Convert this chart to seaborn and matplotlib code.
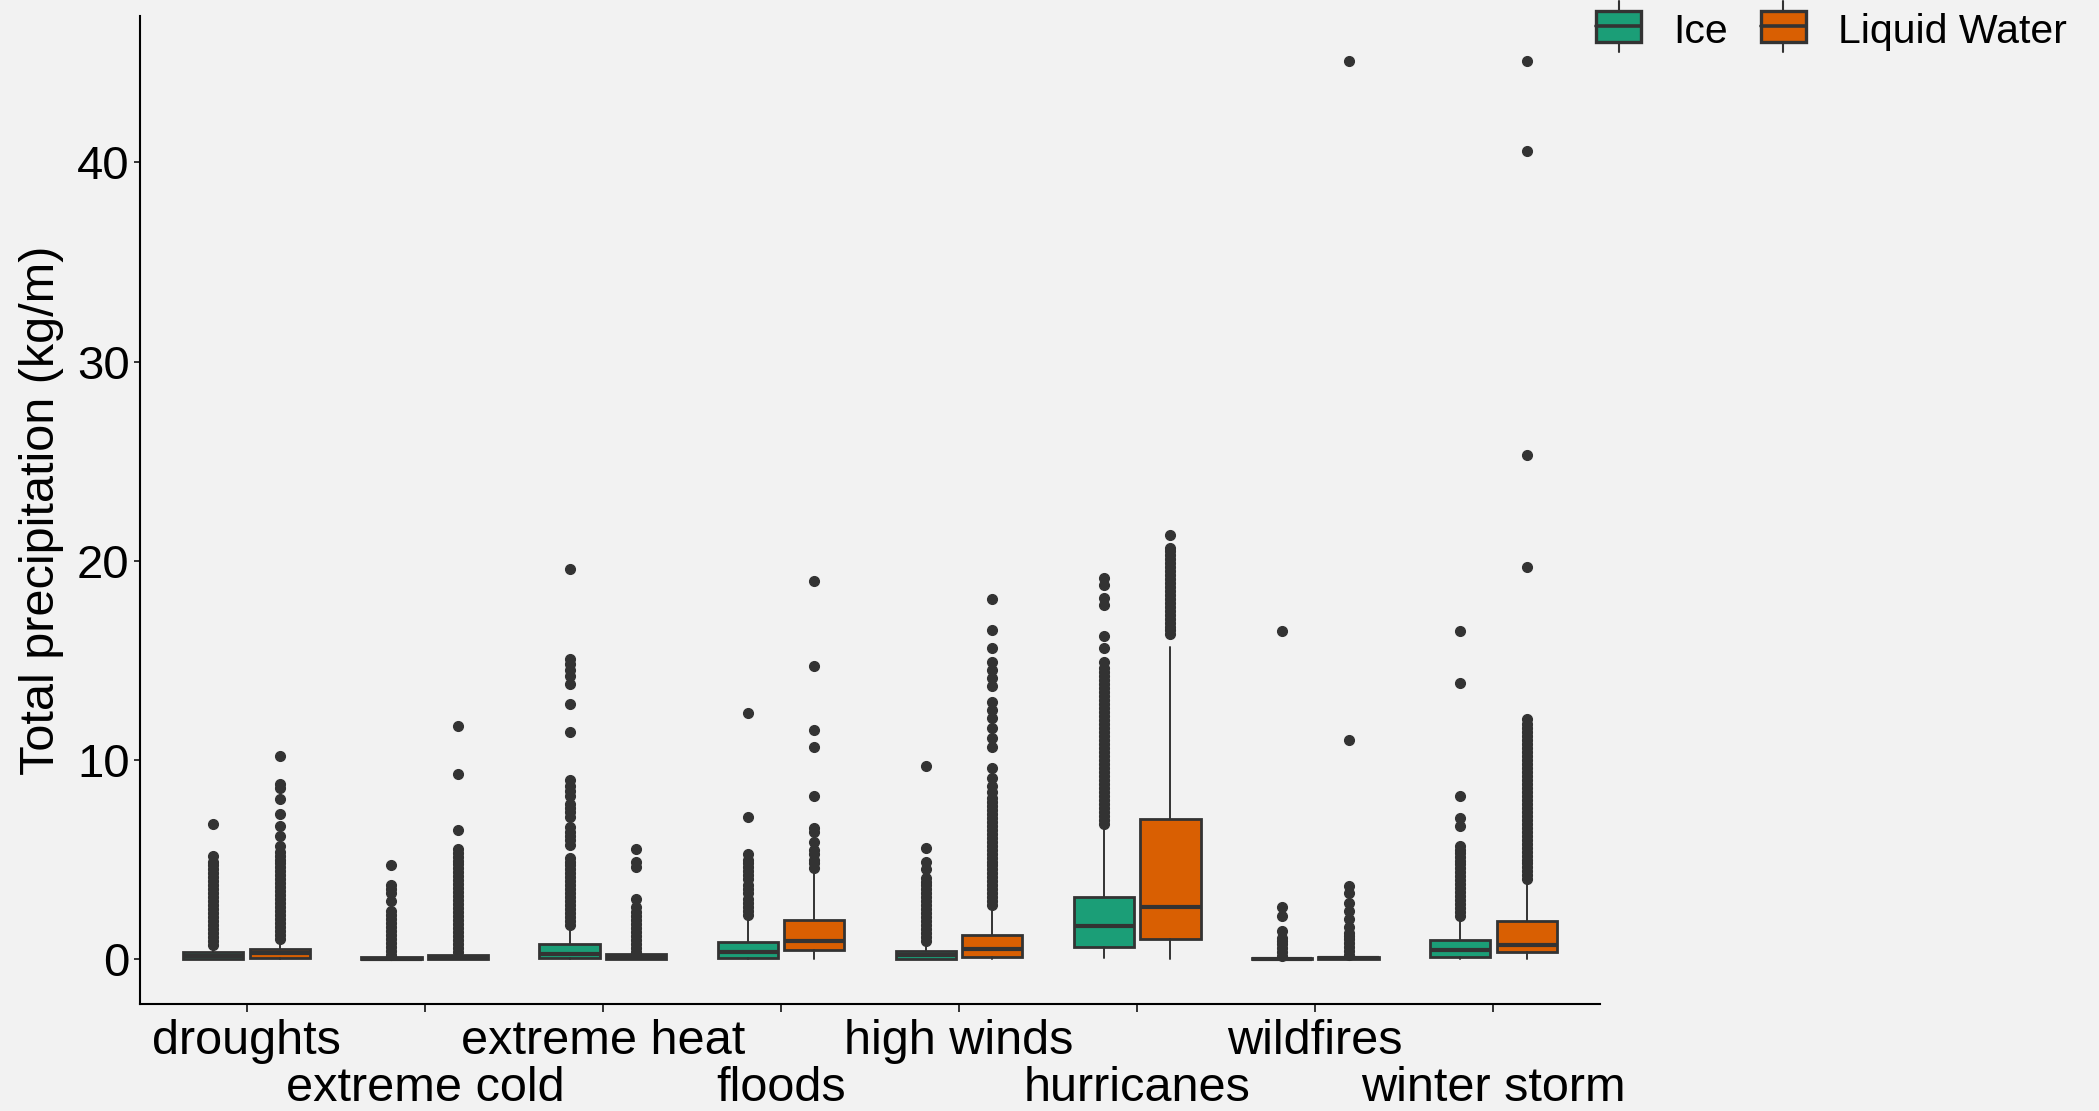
import matplotlib
matplotlib.use("Agg")
import matplotlib.pyplot as plt
from matplotlib.legend_handler import HandlerBase
from matplotlib.patches import Patch, Rectangle
from matplotlib.lines import Line2D
from matplotlib.transforms import ScaledTranslation
import seaborn as sns

# categories and hue groups
categories = ["droughts", "extreme cold", "extreme heat", "floods",
              "high winds", "hurricanes", "wildfires", "winter storm"]
phases = ["Ice", "Liquid Water"]

# box statistics (kg/m)
ice_whislo = [0.0, 0.0, 0.0, 0.0, 0.0, 0.05, 0.0, 0.0]
ice_q1 = [0.02, 0.0, 0.05, 0.05, 0.02, 0.6, 0.0, 0.09]
ice_med = [0.15, 0.02, 0.25, 0.35, 0.2, 1.67, 0.02, 0.47]
ice_q3 = [0.35, 0.08, 0.75, 0.85, 0.4, 3.1, 0.05, 0.94]
ice_whishi = [0.65, 0.15, 1.6, 1.9, 0.8, 6.65, 0.1, 1.9]

water_whislo = [0.0, 0.0, 0.0, 0.0, 0.0, 0.0, 0.0, 0.02]
water_q1 = [0.05, 0.0, 0.02, 0.45, 0.1, 1.02, 0.0, 0.38]
water_med = [0.3, 0.05, 0.1, 0.9, 0.5, 2.64, 0.03, 0.69]
water_q3 = [0.5, 0.2, 0.25, 1.97, 1.2, 7.02, 0.12, 1.92]
water_whishi = [0.9, 0.3, 0.3, 4.45, 2.6, 15.65, 0.18, 3.9]

# outliers
ice_fliers = [
    [0.7, 0.9, 1.1, 1.3, 1.5, 1.7, 1.9, 2.1, 2.3, 2.5, 2.7, 2.9, 3.1, 3.3,
     3.5, 3.7, 3.9, 4.1, 4.3, 4.5, 4.7, 4.9, 5.2, 6.8],
    [0.2, 0.4, 0.6, 0.8, 1.0, 1.2, 1.4, 1.6, 1.8, 2.0, 2.2, 2.4, 2.9, 3.3,
     3.5, 3.7, 4.7],
    [1.7, 1.9, 2.1, 2.3, 2.5, 2.7, 2.9, 3.1, 3.3, 3.5, 3.7, 3.9, 4.1, 4.3,
     4.5, 4.7, 4.9, 5.1, 5.75, 6.0, 6.2, 6.4, 6.65, 7.15, 7.4, 7.6, 7.8,
     8.2, 8.45, 8.7, 9.0, 11.4, 12.8, 13.8, 14.2, 14.5, 14.8, 15.05, 19.6],
    [2.2, 2.4, 2.6, 2.8, 3.0, 3.3, 3.5, 3.7, 4.0, 4.2, 4.4, 4.6, 4.8, 5.0,
     5.3, 7.15, 12.35],
    [0.9, 1.1, 1.3, 1.5, 1.7, 1.9, 2.1, 2.3, 2.5, 2.7, 2.9, 3.1, 3.3, 3.5,
     3.7, 3.85, 4.05, 4.5, 4.9, 5.6, 9.7],
    [6.8, 7.0, 7.2, 7.4, 7.6, 7.8, 8.0, 8.2, 8.4, 8.6, 8.8, 9.0, 9.2, 9.4,
     9.6, 9.8, 10.0, 10.2, 10.4, 10.6, 10.8, 11.0, 11.2, 11.4, 11.6, 11.8,
     12.0, 12.2, 12.4, 12.6, 12.8, 13.0, 13.2, 13.4, 13.6, 13.8, 14.0, 14.2,
     14.4, 14.6, 14.9, 15.6, 16.2, 17.8, 18.15, 18.8, 19.15],
    [0.15, 0.35, 0.55, 0.75, 0.9, 1.05, 1.4, 2.15, 2.6, 16.45],
    [2.15, 2.35, 2.55, 2.75, 2.95, 3.15, 3.35, 3.55, 3.75, 3.95, 4.15, 4.35,
     4.55, 4.75, 4.95, 5.15, 5.35, 5.5, 5.7, 6.7, 7.1, 8.2, 13.87, 16.45],
]
water_fliers = [
    [1.0, 1.2, 1.4, 1.6, 1.8, 2.0, 2.2, 2.4, 2.6, 2.8, 3.0, 3.2, 3.4, 3.6,
     3.8, 4.0, 4.2, 4.4, 4.6, 4.8, 5.0, 5.2, 5.4, 5.7, 6.2, 6.7, 7.3, 8.05,
     8.6, 8.8, 10.2],
    [0.35, 0.55, 0.75, 0.95, 1.15, 1.35, 1.55, 1.75, 1.95, 2.15, 2.35, 2.55,
     2.75, 2.95, 3.15, 3.35, 3.55, 3.75, 3.95, 4.15, 4.35, 4.55, 4.75, 4.95,
     5.15, 5.35, 5.55, 6.5, 9.3, 11.7],
    [0.35, 0.55, 0.75, 0.95, 1.15, 1.35, 1.55, 1.75, 1.95, 2.15, 2.35, 2.6,
     3.0, 4.6, 4.9, 5.55],
    [4.55, 4.8, 5.0, 5.3, 5.5, 5.9, 6.4, 6.6, 8.2, 10.65, 11.5, 14.7, 19.0],
    [2.7, 2.9, 3.1, 3.3, 3.5, 3.7, 3.9, 4.1, 4.3, 4.5, 4.7, 4.9, 5.1, 5.3,
     5.5, 5.7, 5.9, 6.1, 6.3, 6.5, 6.7, 6.9, 7.1, 7.3, 7.5, 7.7, 7.9, 8.1,
     8.4, 8.7, 9.1, 9.6, 10.65, 11.1, 11.6, 12.1, 12.5, 12.9, 13.7, 14.1,
     14.5, 14.9, 15.6, 16.5, 18.1],
    [16.3, 16.5, 16.7, 16.9, 17.1, 17.3, 17.5, 17.7, 17.9, 18.1, 18.3, 18.5,
     18.7, 18.9, 19.1, 19.3, 19.5, 19.7, 19.9, 20.1, 20.3, 20.5, 20.65, 21.3],
    [0.2, 0.4, 0.6, 0.8, 1.0, 1.15, 1.3, 1.6, 2.0, 2.4, 2.8, 3.3, 3.65,
     10.98, 45.1],
    [4.0, 4.2, 4.4, 4.6, 4.8, 5.0, 5.2, 5.4, 5.6, 5.8, 6.0, 6.2, 6.4, 6.6,
     6.8, 7.0, 7.2, 7.4, 7.6, 7.8, 8.0, 8.2, 8.4, 8.6, 8.8, 9.0, 9.2, 9.4,
     9.6, 9.8, 10.0, 10.2, 10.4, 10.6, 10.8, 11.0, 11.2, 11.4, 11.6, 11.8,
     12.06, 19.7, 25.3, 40.6, 45.1],
]

y_ticks = [0, 10, 20, 30, 40]

BG = "#F2F2F2"
INK = "#333333"

sns.set_theme(style="ticks")
plt.rcParams["font.family"] = ["Liberation Sans", "DejaVu Sans"]
plt.rcParams["text.color"] = "black"
plt.rcParams["xtick.labelcolor"] = "black"
plt.rcParams["ytick.labelcolor"] = "black"
plt.rcParams["axes.labelcolor"] = "black"
palette = sns.color_palette("Dark2", 2)


def box_stats(lo, q1, med, q3, hi, fl):
    return [dict(whislo=a, q1=b, med=c, q3=d, whishi=e, fliers=f)
            for a, b, c, d, e, f in zip(lo, q1, med, q3, hi, fl)]


class BoxKey(HandlerBase):
    def create_artists(self, legend, orig, x0, y0, w, h, fontsize, trans):
        cx = x0 + w / 2
        stub = h * 0.32
        arts = [
            Line2D([cx, cx], [y0 - stub, y0], color=INK, lw=1.5),
            Line2D([cx, cx], [y0 + h, y0 + h + stub], color=INK, lw=1.5),
            Rectangle((x0, y0), w, h, facecolor=orig.get_facecolor(),
                      edgecolor=INK, lw=2.4),
            Line2D([x0, x0 + w], [y0 + h / 2, y0 + h / 2], color=INK, lw=2.6),
        ]
        for a in arts:
            a.set_transform(trans)
        return arts


fig = plt.figure(figsize=(20.99, 11.11), dpi=100, facecolor=BG)
ax = fig.add_axes([140 / 2099, 1 - 1004 / 1111, 1460 / 2099, 988 / 1111])
ax.set_facecolor(BG)

offset = 0.1875
width = 0.3375
groups = [
    (box_stats(ice_whislo, ice_q1, ice_med, ice_q3, ice_whishi, ice_fliers), -offset, palette[0]),
    (box_stats(water_whislo, water_q1, water_med, water_q3, water_whishi, water_fliers), offset, palette[1]),
]
for stats, off, col in groups:
    ax.bxp(stats, positions=[i + off for i in range(len(categories))],
           widths=width, patch_artist=True, showcaps=False, manage_ticks=False,
           boxprops=dict(facecolor=col, edgecolor=INK, linewidth=2.0),
           medianprops=dict(color=INK, linewidth=3.0),
           whiskerprops=dict(color=INK, linewidth=1.4),
           flierprops=dict(marker="o", markerfacecolor=INK, markeredgecolor=INK,
                           markersize=7.0, linestyle="none"))

ax.set_xlim(-0.6, len(categories) - 0.4)
ax.set_ylim(-2.255, 47.355)
ax.set_yticks(y_ticks)
ax.set_yticklabels([str(t) for t in y_ticks], fontsize=34)
ax.set_xticks(range(len(categories)))
ax.set_xticklabels(categories, fontsize=35)
ax.tick_params(axis="x", length=6, width=1.4, color=INK, pad=5)
ax.tick_params(axis="y", length=4.5, width=1.4, color=INK, pad=3)
ax.set_xlabel("")
ax.set_ylabel("Total precipitation (kg/m)", fontsize=35)
ax.yaxis.set_label_coords(-0.052, 0.5)
sns.despine(ax=ax)
for s in ("left", "bottom"):
    ax.spines[s].set_linewidth(1.5)
    ax.spines[s].set_color("black")

# second row for every other category label
drop = ScaledTranslation(0, -0.47, fig.dpi_scale_trans)
for i, lab in enumerate(ax.get_xticklabels()):
    if i % 2 == 1:
        lab.set_transform(lab.get_transform() + drop)

handles = [Patch(facecolor=palette[0]), Patch(facecolor=palette[1])]
fig.legend(handles, phases, handler_map={Patch: BoxKey()}, ncol=2,
           loc="center left", bbox_to_anchor=(1596 / 2099, 1 - 32 / 1111),
           frameon=False, fontsize=29.5, borderpad=0, borderaxespad=0,
           handlelength=1.1, handleheight=0.78, handletextpad=0.78,
           columnspacing=0.8)

fig.savefig("out.png", dpi=100, facecolor=BG)
